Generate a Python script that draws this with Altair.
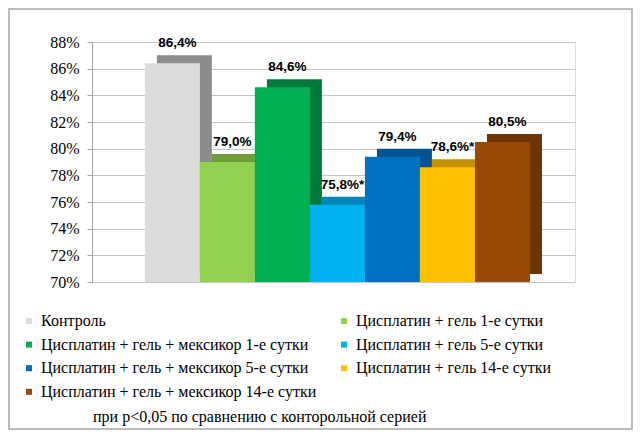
import altair as alt
import pandas as pd

categories = [
    "Контроль",
    "Цисплатин + гель 1-е сутки",
    "Цисплатин + гель + мексикор  1-е сутки",
    "Цисплатин + гель 5-е сутки",
    "Цисплатин + гель + мексикор  5-е сутки",
    "Цисплатин + гель 14-е сутки",
    "Цисплатин + гель + мексикор  14-е сутки",
]
values = [0.864, 0.790, 0.846, 0.758, 0.794, 0.786, 0.805]
labels = ["86,4%", "79,0%", "84,6%", "75,8%*", "79,4%", "78,6%*", "80,5%"]
colors = ["#dcdcdc", "#92d050", "#00b050", "#00b0f0", "#0070c0", "#ffc000", "#984807"]
dark_colors = ["#8c8c8c", "#6f9e3a", "#007a3a", "#0086b8", "#005494", "#c49200", "#6e3404"]
y_ticks = [0.70, 0.72, 0.74, 0.76, 0.78, 0.80, 0.82, 0.84, 0.86, 0.88]
footnote = ["при р<0,05 по сравнению с конторольной серией"]

# legend is laid out column by column: order the entries so rows read like the original
legend_order = [categories[i] for i in [0, 2, 4, 6, 1, 3, 5]]
legend_colors = [colors[i] for i in [0, 2, 4, 6, 1, 3, 5]]

df = pd.DataFrame({
    "category": categories,
    "value": values,
    "label": labels,
    "dark": dark_colors,
})

SERIF = "Liberation Serif"
W, H = 483, 240
PAD_L, PAD_T = 84, 34
TOTAL_W, TOTAL_H = 625, 422

xenc = alt.X("category:N", sort=categories, axis=None,
             scale=alt.Scale(paddingInner=0, paddingOuter=0.89, align=0.54))
yenc = alt.Y("value:Q",
             scale=alt.Scale(domain=[0.70, 0.88], zero=False, nice=False),
             axis=alt.Axis(values=y_ticks, format=".0%", title=None,
                           labelFont=SERIF, labelFontSize=16,
                           labelColor="#000000", labelPadding=8,
                           grid=True, gridColor="#c4c4c4",
                           domainColor="#a6a6a6", tickColor="#a6a6a6", tickSize=5))
y2enc = alt.datum(0.70)

base = alt.Chart(df)

back = base.mark_bar(xOffset=12, x2Offset=12, yOffset=-8, y2Offset=-8).encode(
    x=xenc, y=yenc, y2=y2enc,
    color=alt.Color("dark:N", scale=None),
)

front = base.mark_bar().encode(
    x=xenc, y=yenc, y2=y2enc,
    color=alt.Color("category:N",
                    scale=alt.Scale(domain=legend_order, range=legend_colors),
                    legend=alt.Legend(title=None, orient="none", padding=0,
                                      legendX=-71, legendY=271,
                                      columns=2, columnPadding=15, rowPadding=7.6,
                                      symbolType="square", symbolSize=36,
                                      symbolStrokeWidth=0, symbolOffset=0,
                                      labelFont=SERIF, labelFontSize=16,
                                      labelColor="#000000", labelLimit=0,
                                      labelOffset=4)),
)

text = base.mark_text(dx=5, dy=-20, font="Liberation Sans", fontWeight="bold",
                      fontSize=13.5, color="#000000").encode(
    x=xenc, y=yenc, text="label:N"
)

note = alt.Chart(pd.DataFrame({"note": footnote})).mark_text(
    align="left", baseline="middle", font=SERIF, fontSize=16,
    color="#000000"
).encode(x=alt.value(1), y=alt.value(375), text="note:N")

border = alt.Chart(pd.DataFrame({"b": [0]})).mark_rect(
    fill=None, stroke="#a6a6a6", strokeWidth=1.5
).encode(
    x=alt.value(-PAD_L + 1), x2=alt.value(TOTAL_W - PAD_L - 1),
    y=alt.value(-PAD_T + 1), y2=alt.value(TOTAL_H - PAD_T - 1),
)

chart = alt.layer(back, front, text, note, border).properties(
    width=W, height=H,
    autosize=alt.AutoSizeParams(type="none"),
    padding={"left": PAD_L, "top": PAD_T,
             "right": TOTAL_W - PAD_L - W, "bottom": TOTAL_H - PAD_T - H},
).configure_view(stroke=None).configure(background="#ffffff")

chart.save("out.html", embed_options={"renderer": "svg", "actions": False})
